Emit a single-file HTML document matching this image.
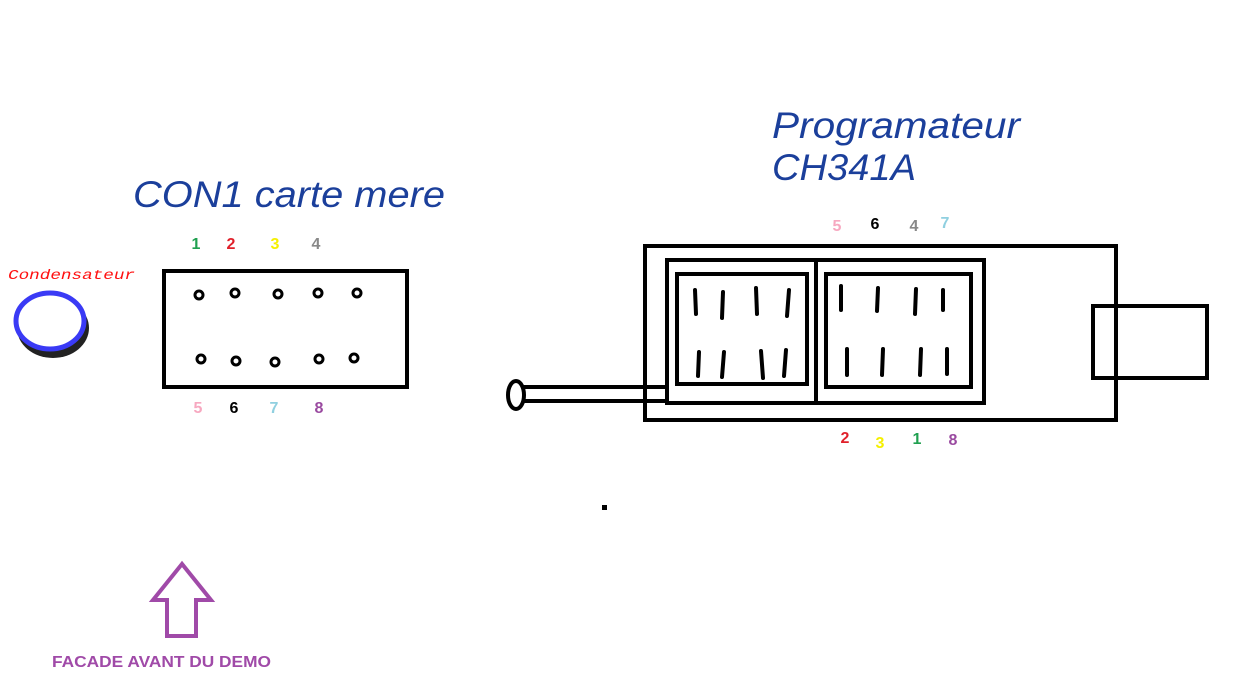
<!DOCTYPE html>
<html><head><meta charset="utf-8"><style>html,body{margin:0;padding:0;background:#fff;}svg{display:block}</style></head>
<body>
<svg width="1237" height="694" viewBox="0 0 1237 694" xmlns="http://www.w3.org/2000/svg" font-family="'Liberation Sans', sans-serif">
<rect width="1237" height="694" fill="#fff"/>
<g fill="#1b3f9b" font-style="italic" font-size="37">
<text x="133" y="207" textLength="312" lengthAdjust="spacingAndGlyphs">CON1 carte mere</text>
<text x="772" y="138" textLength="248" lengthAdjust="spacingAndGlyphs">Programateur</text>
<text x="772" y="180" textLength="144" lengthAdjust="spacingAndGlyphs">CH341A</text>
</g>
<text x="8" y="279" fill="#ff1010" font-style="italic" font-size="14" font-family="'Liberation Mono', monospace" textLength="127" lengthAdjust="spacingAndGlyphs">Condensateur</text>
<ellipse cx="53" cy="328" rx="36" ry="30" fill="#222"/>
<ellipse cx="50" cy="321" rx="34" ry="28" fill="#fff" stroke="#3a3af5" stroke-width="5"/>
<g font-size="16" font-weight="bold" text-anchor="middle">
<text x="196" y="249" fill="#20a050">1</text>
<text x="231" y="249" fill="#e0202a">2</text>
<text x="275" y="249" fill="#f5f000">3</text>
<text x="316" y="249" fill="#888">4</text>
<text x="198" y="413" fill="#f7a8c0">5</text>
<text x="234" y="413" fill="#000">6</text>
<text x="274" y="413" fill="#90d0e0">7</text>
<text x="319" y="413" fill="#9a4aa0">8</text>
<text x="837" y="231" fill="#f7a8c0">5</text>
<text x="875" y="229" fill="#000">6</text>
<text x="914" y="231" fill="#888">4</text>
<text x="945" y="228" fill="#90d0e0">7</text>
<text x="845" y="443" fill="#e0202a">2</text>
<text x="880" y="448" fill="#f5f000">3</text>
<text x="917" y="444" fill="#20a050">1</text>
<text x="953" y="445" fill="#9a4aa0">8</text>
</g>
<rect x="164" y="271" width="243" height="116" fill="none" stroke="#000" stroke-width="4"/>
<g fill="none" stroke="#000" stroke-width="3">
<ellipse cx="199" cy="295" rx="4" ry="4"/><ellipse cx="235" cy="293" rx="4" ry="4"/><ellipse cx="278" cy="294" rx="4" ry="4"/><ellipse cx="318" cy="293" rx="4" ry="4"/><ellipse cx="357" cy="293" rx="4" ry="4"/>
<ellipse cx="201" cy="359" rx="4" ry="4"/><ellipse cx="236" cy="361" rx="4" ry="4"/><ellipse cx="275" cy="362" rx="4" ry="4"/><ellipse cx="319" cy="359" rx="4" ry="4"/><ellipse cx="354" cy="358" rx="4" ry="4"/>
</g>
<g fill="none" stroke="#000" stroke-width="4">
<rect x="645" y="246" width="471" height="174"/>
<rect x="667" y="260" width="317" height="143"/>
<line x1="816" y1="260" x2="816" y2="403"/>
<rect x="677" y="274" width="130" height="110"/>
<rect x="826" y="274" width="145" height="113"/>
<rect x="1093" y="306" width="114" height="72"/>
<line x1="523" y1="387" x2="667" y2="387"/>
<line x1="523" y1="401" x2="667" y2="401"/>
<ellipse cx="516" cy="395" rx="8" ry="14"/>
</g>
<g stroke="#000" stroke-width="4" stroke-linecap="round">
<line x1="695" y1="290" x2="696" y2="314"/><line x1="723" y1="292" x2="722" y2="318"/><line x1="756" y1="288" x2="757" y2="314"/><line x1="789" y1="290" x2="787" y2="316"/>
<line x1="699" y1="352" x2="698" y2="376"/><line x1="724" y1="352" x2="722" y2="377"/><line x1="761" y1="351" x2="763" y2="378"/><line x1="786" y1="350" x2="784" y2="376"/>
<line x1="841" y1="286" x2="841" y2="310"/><line x1="878" y1="288" x2="877" y2="311"/><line x1="916" y1="289" x2="915" y2="314"/><line x1="943" y1="290" x2="943" y2="310"/>
<line x1="847" y1="349" x2="847" y2="375"/><line x1="883" y1="349" x2="882" y2="375"/><line x1="921" y1="349" x2="920" y2="375"/><line x1="947" y1="349" x2="947" y2="374"/>
</g>
<rect x="602" y="505" width="5" height="5" fill="#000"/>
<polygon points="182,564 153,600 167,600 167,636 196,636 196,600 211,600" fill="none" stroke="#a04aa8" stroke-width="4" stroke-linejoin="miter"/>
<text x="52" y="667" fill="#a04aa8" font-weight="bold" font-size="16" textLength="219" lengthAdjust="spacingAndGlyphs">FACADE AVANT DU DEMO</text>
</svg>
</body></html>
